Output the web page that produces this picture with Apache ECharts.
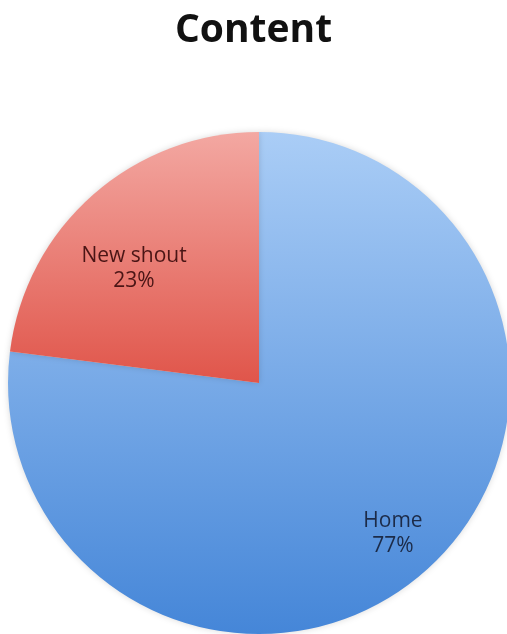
<!DOCTYPE html>
<html><head><meta charset="utf-8">
<script src="https://cdn.jsdelivr.net/npm/echarts@6/dist/echarts.min.js"></script>
<style>html,body{margin:0;padding:0;background:#fff}#c{width:507px;height:634px}</style>
</head><body><div id="c"></div>
<script>
const categories = ['Home', 'New shout'];
const values = [77, 23];
const titleText = 'Content';

const styles = {
  'Home': {top: '#aacdf6', bottom: '#4586d8', text: '#1c2b48', offset: [49, 54]},
  'New shout': {top: '#f3a8a2', bottom: '#e0554a', text: '#4a1515', offset: [-40, -18]}
};

const chart = echarts.init(document.getElementById('c'));
chart.setOption({
  animation: false,
  title: {text: titleText, left: 'center', top: 6,
    textStyle: {fontFamily: 'Open Sans', fontWeight: 'bold', fontSize: 39, color: '#111'}},
  series: [{
    type: 'pie',
    center: [259, 383],
    radius: 251,
    startAngle: 90,
    clockwise: true,
    silent: true,
    label: {show: true, position: 'inside', fontFamily: 'Open Sans', fontSize: 21, lineHeight: 25,
      formatter: p => p.name + '\n' + p.value + '%'},
    labelLine: {show: false},
    data: categories.map((n, i) => ({
      name: n, value: values[i],
      itemStyle: {
        color: new echarts.graphic.LinearGradient(0, 0, 0, 1, [
          {offset: 0, color: styles[n].top}, {offset: 1, color: styles[n].bottom}]),
        shadowBlur: 6, shadowColor: 'rgba(0,0,0,0.15)'
      },
      label: {color: styles[n].text, offset: styles[n].offset}
    }))
  }]
});
</script></body></html>
